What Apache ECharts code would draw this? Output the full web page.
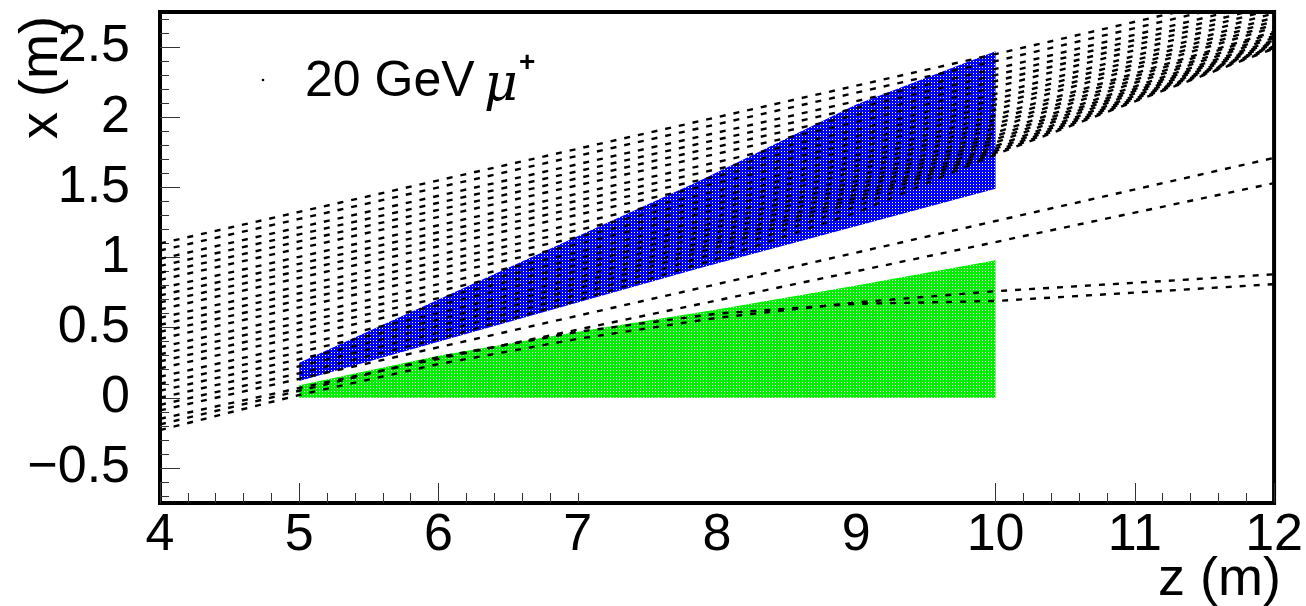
<!DOCTYPE html>
<html><head><meta charset="utf-8">
<script src="https://cdn.jsdelivr.net/npm/echarts@6/dist/echarts.min.js"></script>
<style>html,body{margin:0;padding:0;background:#fff}#c{width:1306px;height:606px}</style>
</head><body><div id="c"></div>
<script>
// ---- data ----
const zKnots = [4, 5, 6, 7, 8, 9, 10, 12];
const fanTracks = [
  [1.10, 1.325, 1.55, 1.775, 2.00, 2.225, 2.45, 2.91],
  [1.05, 1.275, 1.50, 1.725, 1.95, 2.175, 2.40, 2.87],
  [0.99, 1.215, 1.44, 1.665, 1.89, 2.115, 2.345, 2.83],
  [0.94, 1.165, 1.39, 1.615, 1.84, 2.065, 2.30, 2.80],
  [0.89, 1.115, 1.34, 1.565, 1.79, 2.015, 2.257, 2.77],
  [0.84, 1.065, 1.29, 1.515, 1.74, 1.965, 2.215, 2.74],
  [0.78, 1.005, 1.23, 1.455, 1.68, 1.91, 2.166, 2.71],
  [0.73, 0.955, 1.18, 1.405, 1.63, 1.864, 2.128, 2.684],
  [0.68, 0.905, 1.13, 1.355, 1.58, 1.82, 2.09, 2.66],
  [0.63, 0.855, 1.08, 1.305, 1.53, 1.778, 2.055, 2.64],
  [0.57, 0.795, 1.02, 1.245, 1.474, 1.729, 2.014, 2.61],
  [0.52, 0.745, 0.97, 1.195, 1.428, 1.69, 1.983, 2.60],
  [0.47, 0.695, 0.92, 1.145, 1.384, 1.653, 1.952, 2.58],
  [0.42, 0.645, 0.87, 1.095, 1.342, 1.618, 1.924, 2.566],
  [0.36, 0.585, 0.81, 1.038, 1.292, 1.577, 1.89, 2.548],
  [0.31, 0.535, 0.76, 0.992, 1.253, 1.544, 1.865, 2.537],
  [0.26, 0.485, 0.71, 0.948, 1.216, 1.514, 1.842, 2.53],
  [0.21, 0.435, 0.66, 0.905, 1.18, 1.485, 1.82, 2.52],
  [0.15, 0.375, 0.603, 0.856, 1.139, 1.451, 1.794, 2.51],
  [0.10, 0.325, 0.557, 0.816, 1.106, 1.426, 1.776, 2.506],
  [0.05, 0.275, 0.512, 0.779, 1.075, 1.402, 1.759, 2.503],
  [0.00, 0.225, 0.465, 0.735, 1.035, 1.365, 1.745, 2.495],
  [-0.05, 0.175, 0.42, 0.695, 0.99, 1.32, 1.735, 2.49]
];
const gapZ = [4, 5, 10, 12];
const gapTracks = [
  [-0.09, 0.135, 1.26, 1.71],
  [-0.15, 0.07, 1.11, 1.53]
];
const greenTrackZ = [4, 5, 6, 7, 8, 9, 10, 12];
const greenTracks = [
  [-0.23, 0.02, 0.24, 0.42, 0.57, 0.68, 0.76, 0.88],
  [-0.19, 0.05, 0.29, 0.47, 0.60, 0.67, 0.69, 0.81]
];
const blueTopZ = [5, 7.86, 9, 10];
const blueTopX = [0.25, 1.54, 2.09, 2.47];
const blueBotZ = [5, 7.86, 10];
const blueBotX = [0.12, 0.92, 1.49];
const greenTopZ = [5, 6, 7, 8, 9, 10];
const greenTopX = [0.09, 0.30, 0.47, 0.63, 0.80, 0.98];
const greenBase = 0;
const xLabels = [4, 5, 6, 7, 8, 9, 10, 11, 12];
const xMajorTicks = [4, 5, 6, 10, 11, 12];
const xMinorTicks = [4.2, 4.4, 4.6, 4.8, 5.2, 5.4, 5.6, 5.8, 6.2, 6.4, 6.6, 6.8, 7.0,
  10.2, 10.4, 10.6, 10.8, 11.2, 11.4, 11.6, 11.8];
const yLabels = [-0.5, 0, 0.5, 1, 1.5, 2, 2.5];
const yMinorTicks = [-0.7, -0.6, -0.4, -0.3, -0.2, -0.1, 0.1, 0.2, 0.3, 0.4, 0.6, 0.7, 0.8, 0.9,
  1.1, 1.2, 1.3, 1.4, 1.6, 1.7, 1.8, 1.9, 2.1, 2.2, 2.3, 2.4, 2.6, 2.7];

// ---- rendering ----
const FONT = '"Liberation Sans", Arial, sans-serif';
function pattern(color) {
  const c = document.createElement('canvas');
  c.width = 3; c.height = 3;
  const g = c.getContext('2d');
  g.fillStyle = color; g.fillRect(0, 0, 3, 3);
  g.fillStyle = '#ffffff'; g.fillRect(1, 1, 1, 1);
  return { image: c, repeat: 'repeat' };
}
const bluePoly = blueTopZ.map((z, i) => [z, blueTopX[i]])
  .concat(blueBotZ.map((z, i) => [z, blueBotX[i]]).reverse());
const greenPoly = greenTopZ.map((z, i) => [z, greenTopX[i]])
  .concat([[greenTopZ[greenTopZ.length - 1], greenBase], [greenTopZ[0], greenBase]]);

function polySeries(poly, fill) {
  return {
    type: 'custom', z: 1, silent: true, clip: true,
    data: poly,
    renderItem: function (params, api) {
      if (params.dataIndex !== 0) return null;
      return { type: 'polygon', shape: { points: poly.map(p => api.coord(p)) },
        style: { fill: fill, stroke: null } };
    }
  };
}
function track(zs, xs) {
  return {
    type: 'line', z: 5, symbol: 'none', silent: true, clip: true,
    data: zs.map((z, i) => [z, xs[i]]),
    lineStyle: { color: '#000', width: 2.4, type: [6, 8] }
  };
}
const series = [polySeries(bluePoly, pattern('#0000ff')), polySeries(greenPoly, pattern('#00ee00'))];
fanTracks.forEach(t => series.push(track(zKnots, t)));
gapTracks.forEach(t => series.push(track(gapZ, t)));
greenTracks.forEach(t => series.push(track(greenTrackZ, t)));

const tickStyle = { color: '#333', width: 1 };
const axisBase = { type: 'value', splitLine: { show: false }, axisLine: { show: false, onZero: false } };
const option = {
  animation: false,
  backgroundColor: '#fff',
  grid: { left: 160, right: 24, top: 12, bottom: 103, show: true, borderColor: '#000', borderWidth: 4 },
  xAxis: [
    Object.assign({}, axisBase, { min: 4, max: 12, position: 'bottom',
      axisTick: { show: true, inside: true, length: 20, lineStyle: tickStyle, customValues: xMajorTicks },
      axisLabel: { customValues: xLabels, margin: 7, fontSize: 52, color: '#000', fontFamily: FONT,
        formatter: v => String(v) } }),
    Object.assign({}, axisBase, { min: 4, max: 12, position: 'bottom',
      axisTick: { show: true, inside: true, length: 10, lineStyle: tickStyle, customValues: xMinorTicks },
      axisLabel: { show: false } })
  ],
  yAxis: [
    Object.assign({}, axisBase, { min: -0.75, max: 2.75, position: 'left',
      axisTick: { show: true, inside: true, length: 20, lineStyle: tickStyle, customValues: yLabels },
      axisLabel: { customValues: yLabels, margin: 30, fontSize: 52, color: '#000', fontFamily: FONT,
        formatter: v => (v < 0 ? '\u2212' + Math.abs(v) : String(v)) } }),
    Object.assign({}, axisBase, { min: -0.75, max: 2.75, position: 'left',
      axisTick: { show: true, inside: true, length: 9, lineStyle: tickStyle, customValues: yMinorTicks },
      axisLabel: { show: false } })
  ],
  series: series,
  graphic: [
    { type: 'text', x: 305, y: 82, style: { text: '20 GeV', font: '50px ' + FONT, fill: '#000',
      textAlign: 'left', textVerticalAlign: 'middle' } },
    { type: 'text', x: 484, y: 86, style: { text: '\u03bc', font: 'italic 52px "DejaVu Serif", serif', fill: '#000',
      textAlign: 'left', textVerticalAlign: 'middle' } },
    { type: 'text', x: 519, y: 63, style: { text: '+', font: 'bold 28px ' + FONT, fill: '#000',
      textAlign: 'left', textVerticalAlign: 'middle' } },
    { type: 'circle', x: 263, y: 80, shape: { r: 1.3 }, style: { fill: '#000' } },
    { type: 'text', x: 42, y: 16, rotation: Math.PI / 2, style: { text: 'x (m)', font: '54px ' + FONT, fill: '#000',
      textAlign: 'right', textVerticalAlign: 'middle' } },
    { type: 'text', x: 1281, y: 580, style: { text: 'z (m)', font: '54px ' + FONT, fill: '#000',
      textAlign: 'right', textVerticalAlign: 'middle' } }
  ]
};
const chart = echarts.init(document.getElementById('c'), null, { renderer: 'canvas' });
chart.setOption(option);
</script></body></html>
